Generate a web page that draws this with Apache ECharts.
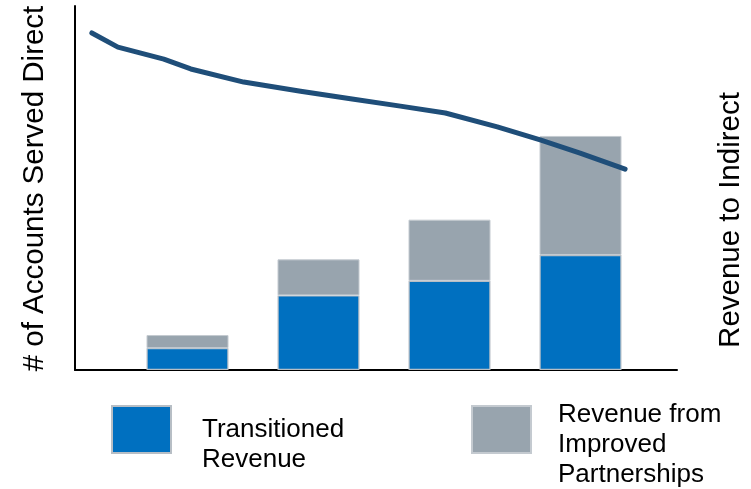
<!DOCTYPE html>
<html>
<head>
<meta charset="utf-8">
<script src="https://cdn.jsdelivr.net/npm/echarts@6/dist/echarts.min.js"></script>
<style>
  html, body { margin: 0; padding: 0; background: #fff; }
  #chart { width: 751px; height: 489px; }
</style>
</head>
<body>
<div id="chart"></div>
<script>
// Stacked revenue columns, one per period
const periods = ['P1', 'P2', 'P3', 'P4'];
const transitionedRevenue = [6.0, 20.5, 24.5, 31.6];
const partnershipRevenue = [3.6, 9.9, 16.8, 32.7];

// Accounts served direct, sampled along the period axis (1 = first column centre)
const accountPositions = [0.263, 0.462, 0.813, 1.019, 1.424, 1.859, 2.240, 2.622, 2.966, 3.363, 3.691, 3.996, 4.340];
const accountValues = [92.6, 88.7, 85.4, 82.7, 79.1, 76.6, 74.5, 72.5, 70.6, 66.8, 63.2, 59.6, 55.2];

const leftTitle = '# of Accounts Served Direct';
const rightTitle = 'Revenue to Indirect';
const seriesNames = ['Transitioned\nRevenue', 'Revenue from\nImproved\nPartnerships'];

const FONT = '"Liberation Sans", Arial, sans-serif';
const BLUE = '#0070c0';
const GREY = '#98a4ae';
const LINE = '#1f4e79';
const EDGE = '#b7bec5';

const chart = echarts.init(document.getElementById('chart'), null, { renderer: 'canvas' });

const hiddenValueAxis = {
  axisLine: { show: false }, axisTick: { show: false },
  axisLabel: { show: false }, splitLine: { show: false }
};

// Legend labels sit a little below the swatch centre: a leading blank line pushes them down
const legendLabel = name => '\n' + name;

chart.setOption({
  animation: false,
  backgroundColor: '#ffffff',
  grid: [
    // frame + line
    { left: 75, right: 74, top: 6, bottom: 119 },
    // columns
    { left: 122, right: 105, top: 6, bottom: 119 }
  ],
  xAxis: [
    {
      type: 'value', gridIndex: 0, min: 0.134, max: 4.737,
      axisLine: { show: true, onZero: false, lineStyle: { color: '#000', width: 2 } },
      axisTick: { show: false }, axisLabel: { show: false }, splitLine: { show: false }
    },
    {
      type: 'category', gridIndex: 1, data: periods,
      axisLine: { show: false }, axisTick: { show: false },
      axisLabel: { show: false }, splitLine: { show: false }
    }
  ],
  yAxis: [
    {
      type: 'value', gridIndex: 0, min: 0, max: 100, position: 'left',
      axisLine: { show: true, lineStyle: { color: '#000', width: 2 } },
      axisTick: { show: false }, axisLabel: { show: false }, splitLine: { show: false }
    },
    Object.assign({ type: 'value', gridIndex: 1, min: 0, max: 100, position: 'right' }, hiddenValueAxis)
  ],
  legend: [
    {
      data: [seriesNames[0]],
      left: 111, top: 384.5, padding: 0,
      icon: 'rect', itemWidth: 59, itemHeight: 47,
      formatter: legendLabel,
      textStyle: { fontFamily: FONT, fontSize: 26, color: '#000', lineHeight: 30, padding: [0, 0, 0, 26] },
      selectedMode: false
    },
    {
      data: [seriesNames[1]],
      left: 471, top: 369.5, padding: 0,
      icon: 'rect', itemWidth: 59, itemHeight: 47,
      formatter: legendLabel,
      textStyle: { fontFamily: FONT, fontSize: 26, color: '#000', lineHeight: 30, padding: [0, 0, 0, 22] },
      selectedMode: false
    }
  ],
  // Rotated axis titles beside the plot
  graphic: [
    {
      type: 'text', rotation: Math.PI / 2, x: 35, y: 188.5,
      style: { text: leftTitle, font: '29.5px ' + FONT, fill: '#000', align: 'center', verticalAlign: 'middle' }
    },
    {
      type: 'text', rotation: Math.PI / 2, x: 731, y: 220,
      style: { text: rightTitle, font: '29.5px ' + FONT, fill: '#000', align: 'center', verticalAlign: 'middle' }
    }
  ],
  series: [
    {
      name: seriesNames[0], type: 'bar', stack: 'rev',
      xAxisIndex: 1, yAxisIndex: 1, barWidth: 82,
      data: transitionedRevenue,
      itemStyle: { color: BLUE, borderColor: EDGE, borderWidth: 1.2 }
    },
    {
      name: seriesNames[1], type: 'bar', stack: 'rev',
      xAxisIndex: 1, yAxisIndex: 1, barWidth: 82,
      data: partnershipRevenue,
      itemStyle: { color: GREY, borderColor: '#c4cad0', borderWidth: 1 }
    },
    {
      name: 'Accounts Served Direct', type: 'line',
      xAxisIndex: 0, yAxisIndex: 0,
      data: accountPositions.map((x, i) => [x, accountValues[i]]),
      showSymbol: false, symbol: 'none',
      lineStyle: { color: LINE, width: 5, cap: 'round', join: 'round' },
      z: 5
    }
  ]
});
</script>
</body>
</html>
